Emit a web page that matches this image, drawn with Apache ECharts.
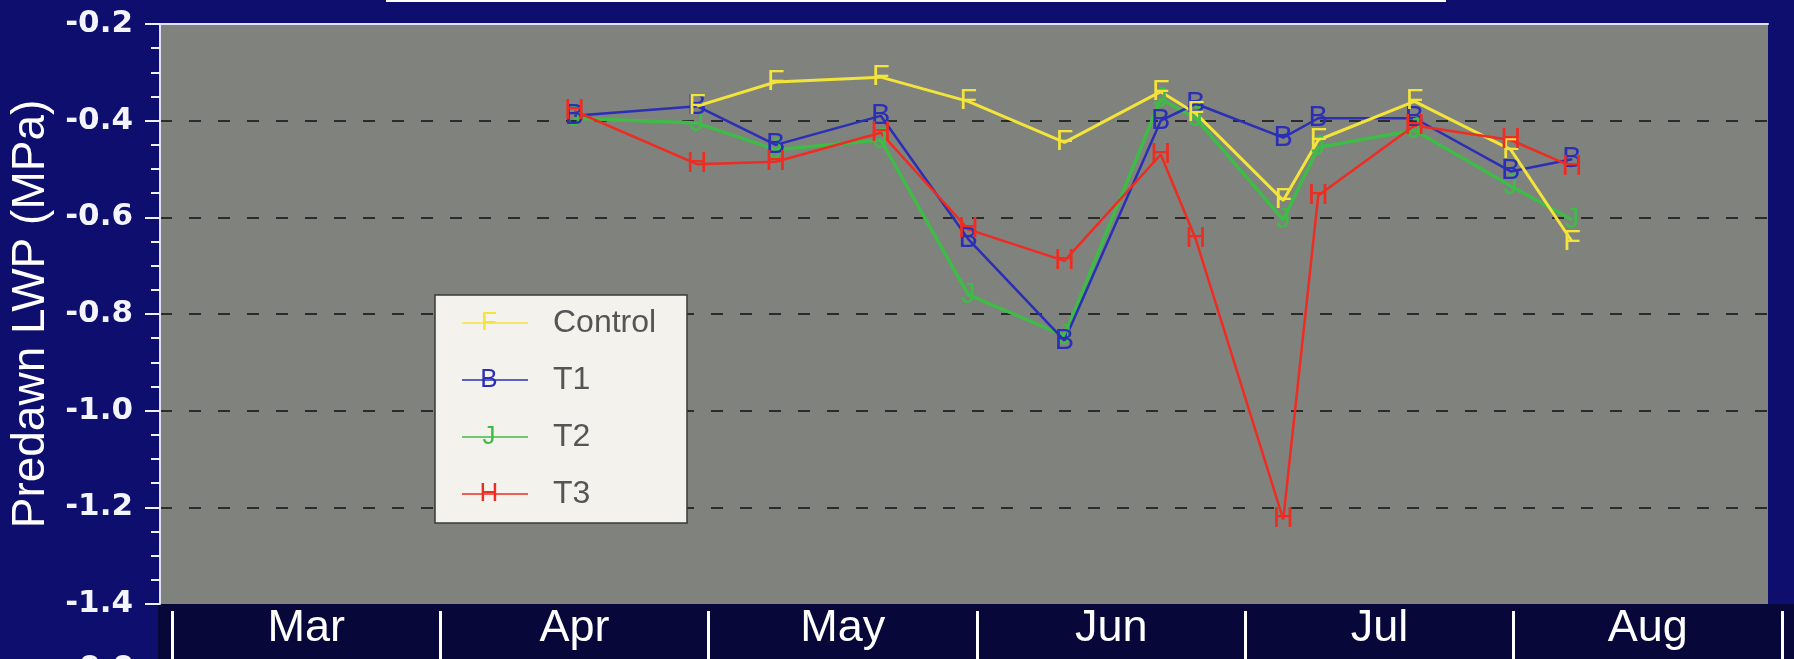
<!DOCTYPE html>
<html>
<head>
<meta charset="utf-8">
<script src="https://cdn.jsdelivr.net/npm/echarts@6/dist/echarts.min.js"></script>
<style>
  html, body { margin: 0; padding: 0; background: #0e0e6e; }
  #chart { width: 1794px; height: 659px; }
</style>
</head>
<body>
<div id="chart"></div>
<script>
// ---- data ----
const seriesNames = ['Control', 'T1', 'T2', 'T3'];
const letters = ['F', 'B', 'J', 'H'];
const colors = ['#f3e43c', '#2b2fb5', '#3fbb48', '#ee2c22'];
const months = ['Mar', 'Apr', 'May', 'Jun', 'Jul', 'Aug'];
const yTicks = [-1.4, -1.2, -1.0, -0.8, -0.6, -0.4, -0.2];
const dates = ['1997-04-16', '1997-04-30', '1997-05-09', '1997-05-21', '1997-05-31', '1997-06-11',
               '1997-06-22', '1997-06-26', '1997-07-06', '1997-07-10', '1997-07-21', '1997-08-01', '1997-08-08'];
const control = [null, -0.37, -0.32, -0.31, -0.36, -0.445, -0.34, -0.385, -0.565, -0.44, -0.36, -0.46, -0.65];
const t1 = [-0.39, -0.37, -0.45, -0.39, -0.645, -0.855, -0.40, -0.365, -0.435, -0.395, -0.395, -0.505, -0.48];
const t2 = [-0.395, -0.405, -0.46, -0.44, -0.76, -0.845, -0.355, -0.395, -0.605, -0.455, -0.42, -0.535, -0.605];
const t3 = [-0.38, -0.49, -0.485, -0.425, -0.625, -0.69, -0.47, -0.645, -1.225, -0.555, -0.41, -0.44, -0.495];
const values = [control, t1, t2, t3];
const lineWidths = [3, 2.5, 3.5, 2.5];
const drawOrder = [2, 1, 0, 3];

// ---- chart ----
const DAY = 86400000;
const xMin = new Date(1997, 2, 1).getTime() - 1.37 * DAY;
const xMax = new Date(1997, 8, 1).getTime() - 1.6 * DAY;

function pairs(vals) {
  const out = [];
  vals.forEach((v, i) => { if (v !== null) out.push([dates[i], v]); });
  return out;
}

const series = drawOrder.map(idx => ({
  name: seriesNames[idx],
  type: 'line',
  xAxisIndex: 0,
  yAxisIndex: 0,
  data: pairs(values[idx]),
  symbol: 'circle',
  symbolSize: 1,
  itemStyle: { color: colors[idx] },
  lineStyle: { color: colors[idx], width: lineWidths[idx] },
  label: {
    show: true,
    position: 'inside',
    formatter: letters[idx],
    color: colors[idx],
    fontSize: 29,
    fontFamily: 'Liberation Sans',
    align: 'center',
    verticalAlign: 'middle'
  },
  emphasis: { disabled: true },
  z: 3
}));

const legendChildren = [
  { type: 'rect', z: 100, shape: { x: 435, y: 295, width: 252, height: 228 },
    style: { fill: '#f3f2ed', stroke: '#3a3a3a', lineWidth: 1.5 } }
];
seriesNames.forEach((name, i) => {
  const cy = 323 + i * 57;
  legendChildren.push({ type: 'line', z: 101, shape: { x1: 462, y1: cy, x2: 528, y2: cy },
    style: { stroke: colors[i], lineWidth: 1.5 } });
  legendChildren.push({ type: 'text', z: 102, x: 489, y: cy,
    style: { text: letters[i], fill: colors[i], font: '26px "Liberation Sans"', align: 'center', verticalAlign: 'middle' } });
  legendChildren.push({ type: 'text', z: 102, x: 553, y: cy,
    style: { text: name, fill: '#555555', font: '32px "Liberation Sans"', align: 'left', verticalAlign: 'middle' } });
});

const option = {
  animation: false,
  backgroundColor: '#0e0e6e',
  grid: [
    { left: 160, right: 26, top: 24, bottom: 55, show: true, backgroundColor: '#7f827d', borderWidth: 0 },
    { left: 172, right: 12, top: 610, height: 1, show: false }
  ],
  xAxis: [
    { type: 'time', gridIndex: 0, position: 'top', min: xMin, max: xMax,
      axisLine: { show: true, lineStyle: { color: '#dfe3f4', width: 2 } },
      axisTick: { show: false }, axisLabel: { show: false }, splitLine: { show: false } },
    { type: 'category', gridIndex: 1, position: 'bottom', data: months, boundaryGap: true,
      axisLine: { show: false },
      axisTick: { show: true, alignWithLabel: false, length: 49, lineStyle: { color: '#ffffff', width: 3 } },
      axisLabel: { color: '#ffffff', fontSize: 45, fontFamily: 'Liberation Sans', margin: 18, verticalAlign: 'middle' },
      splitLine: { show: false } }
  ],
  yAxis: [
    { type: 'value', gridIndex: 0, min: yTicks[0], max: yTicks[yTicks.length - 1], interval: 0.2,
      name: 'Predawn LWP (MPa)', nameLocation: 'middle', nameGap: 127,
      nameTextStyle: { color: '#ffffff', fontSize: 46, fontFamily: 'Liberation Sans', verticalAlign: 'middle' },
      axisLine: { show: true, lineStyle: { color: '#dfe3f4', width: 2 } },
      axisTick: { show: true, length: 15, lineStyle: { color: '#eef0fa', width: 2 } },
      minorTick: { show: true, splitNumber: 4, length: 9, lineStyle: { color: '#eef0fa', width: 2 } },
      axisLabel: { color: '#f4f4ff', fontSize: 31, fontWeight: 'bold', fontFamily: 'DejaVu Sans', margin: 27,
                   formatter: v => v.toFixed(1) },
      splitLine: { show: true, showMinLine: false, showMaxLine: false,
                   lineStyle: { color: '#2b2b2b', width: 2, type: [12, 17] } } },
    { type: 'value', gridIndex: 1, show: false }
  ],
  graphic: [
    { type: 'rect', z: -10, shape: { x: 158, y: 604, width: 1636, height: 55 }, style: { fill: '#07073a' } },
    { type: 'rect', z: 10, shape: { x: 386, y: 0, width: 1060, height: 2 }, style: { fill: '#ffffff' } },
    { type: 'text', z: 10, x: 134, y: 653,
      style: { text: '0.0', fill: '#f4f4ff', font: 'bold 31px "DejaVu Sans"', align: 'right', verticalAlign: 'top' } },
    { type: 'group', z: 100, children: legendChildren }
  ],
  series: series
};

const chart = echarts.init(document.getElementById('chart'), null, { renderer: 'canvas' });
chart.setOption(option);
</script>
</body>
</html>
